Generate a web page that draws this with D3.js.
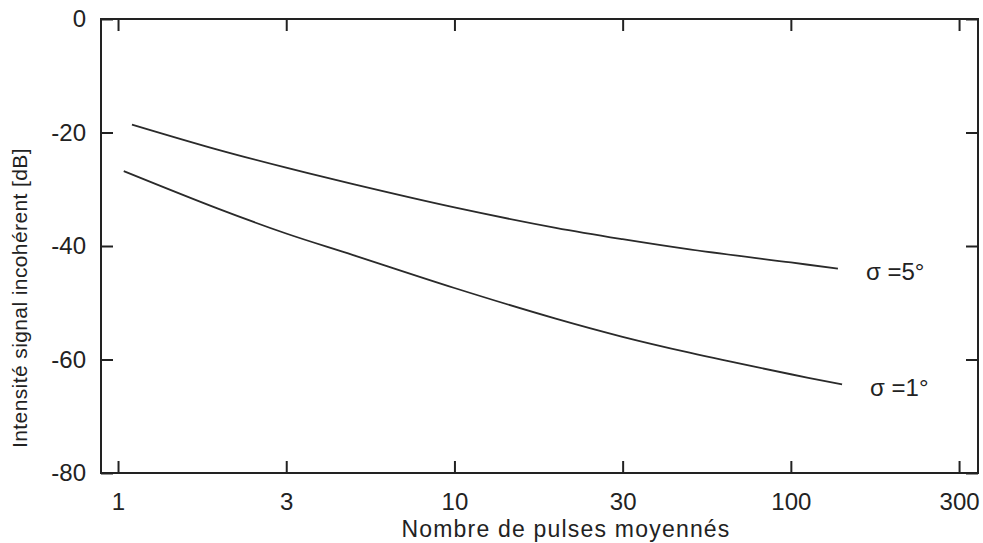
<!DOCTYPE html>
<html>
<head>
<meta charset="utf-8">
<script src="https://cdn.jsdelivr.net/npm/d3@7"></script>
<style>
  html, body { margin: 0; padding: 0; background: #fff; }
  svg text { font-family: "Liberation Sans", Arial, sans-serif; fill: #222; }
</style>
</head>
<body>
<svg id="chart" width="983" height="543"></svg>
<script>
// Number of averaged pulses (log axis) and incoherent signal level in dB
const pulses5 = [1.1, 2, 3.16, 5, 10, 20, 31.6, 50, 100, 138];
const level5  = [-18.6, -23.1, -26.2, -29.1, -33.2, -36.8, -38.8, -40.6, -42.9, -44.0];

const pulses1 = [1.04, 2, 3.16, 5, 10, 20, 31.6, 50, 100, 142];
const level1  = [-26.8, -33.5, -37.8, -41.6, -47.4, -52.8, -56.0, -58.8, -62.6, -64.4];

const seriesLabels = ["\u03C3 =5\u00B0", "\u03C3 =1\u00B0"];

const xTickValues = [1, 3.1623, 10, 31.623, 100, 316.23];
const xTickLabels = ["1", "3", "10", "30", "100", "300"];
const yTickValues = [0, -20, -40, -60, -80];
const yTickLabels = ["0", "-20", "-40", "-60", "-80"];

const xDomain = [0.89, 360];
const yDomain = [-80, 0];

const xLabel = "Nombre de pulses moyenn\u00E9s";
const yLabel = "Intensit\u00E9 signal incoh\u00E9rent [dB]";

const svg = d3.select("#chart");
const plotLeft = 101, plotRight = 978, plotTop = 19, plotBottom = 473;

const x = d3.scaleLog().domain(xDomain).range([plotLeft, plotRight]);
const y = d3.scaleLinear().domain(yDomain).range([plotBottom, plotTop]);

const tickLen = 12;
const fs = 24;

// bottom axis (labels) with inward ticks
const gB = svg.append("g").attr("transform", `translate(0,${plotBottom})`)
  .call(d3.axisBottom(x).tickValues(xTickValues)
    .tickFormat((d, i) => xTickLabels[i]).tickSize(-tickLen).tickPadding(20));
// top axis ticks only
const gT = svg.append("g").attr("transform", `translate(0,${plotTop})`)
  .call(d3.axisTop(x).tickValues(xTickValues).tickFormat("").tickSize(-tickLen));
// left axis (labels)
const gL = svg.append("g").attr("transform", `translate(${plotLeft},0)`)
  .call(d3.axisLeft(y).tickValues(yTickValues)
    .tickFormat((d, i) => yTickLabels[i]).tickSize(-tickLen).tickPadding(15));
// right axis ticks only
const gR = svg.append("g").attr("transform", `translate(${plotRight},0)`)
  .call(d3.axisRight(y).tickValues(yTickValues).tickFormat("").tickSize(-tickLen));

[gB, gT, gL, gR].forEach(g => {
  g.select(".domain").remove();
  g.selectAll(".tick line").attr("stroke", "#222").attr("stroke-width", 2);
  g.selectAll(".tick text").attr("font-size", fs).attr("fill", "#222")
    .style("font-family", "'Liberation Sans', Arial, sans-serif");
});

// plot frame
svg.append("rect")
  .attr("x", plotLeft).attr("y", plotTop)
  .attr("width", plotRight - plotLeft).attr("height", plotBottom - plotTop)
  .attr("fill", "none").attr("stroke", "#222").attr("stroke-width", 2);

// curves
const line = d3.line()
  .x(d => x(d[0])).y(d => y(d[1]))
  .curve(d3.curveCatmullRom.alpha(0.5));

const series = [
  { xs: pulses5, ys: level5, label: seriesLabels[0] },
  { xs: pulses1, ys: level1, label: seriesLabels[1] }
];

series.forEach(s => {
  const pts = s.xs.map((v, i) => [v, s.ys[i]]);
  svg.append("path")
    .attr("d", line(pts))
    .attr("fill", "none")
    .attr("stroke", "#2a2a2a")
    .attr("stroke-width", 1.8);
  const last = pts[pts.length - 1];
  svg.append("text")
    .attr("x", x(last[0]) + 28)
    .attr("y", y(last[1]) + 3)
    .attr("dy", "0.35em")
    .attr("font-size", fs)
    .text(s.label);
});

// axis titles
svg.append("text")
  .attr("x", 566).attr("y", 537)
  .attr("text-anchor", "middle")
  .attr("font-size", 23)
  .attr("letter-spacing", 1.2)
  .text(xLabel);

svg.append("text")
  .attr("transform", "translate(27,298) rotate(-90)")
  .attr("text-anchor", "middle")
  .attr("font-size", 21)
  .attr("letter-spacing", 0.4)
  .text(yLabel);
</script>
</body>
</html>
